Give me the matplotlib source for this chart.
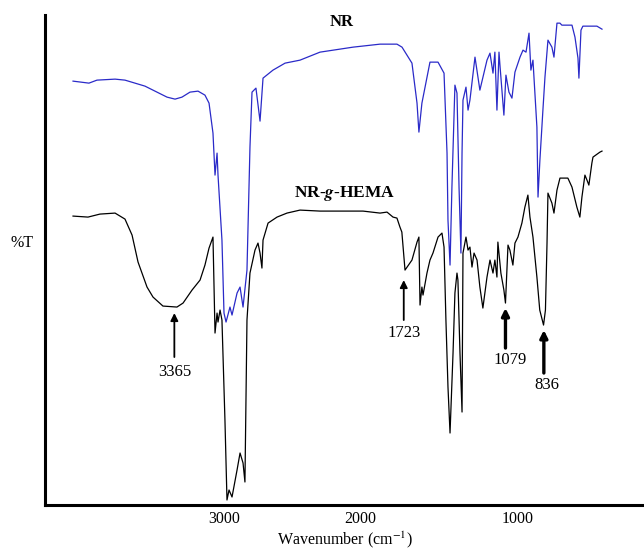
import numpy as np
import matplotlib
matplotlib.use("Agg")
import matplotlib.pyplot as plt

plt.rcParams['font.family'] = 'Liberation Serif'
plt.rcParams['mathtext.fontset'] = 'stix'

# NR spectrum (wavenumber, %T)
nr_wn = [4110, 3993, 3934, 3801, 3728, 3581, 3419, 3360, 3309, 3250, 3191, 3140,
         3110, 3081, 3066, 3051, 3044, 3015, 3000, 2985, 2956, 2941, 2904, 2882,
         2860, 2831, 2809, 2794, 2765, 2735, 2713, 2640, 2551, 2441, 2294, 2051,
         1873, 1766, 1734, 1671, 1639, 1627, 1608, 1557, 1506, 1468, 1449, 1443,
         1430, 1418, 1399, 1386, 1373, 1361, 1354, 1348, 1329, 1316, 1304, 1272,
         1241, 1196, 1177, 1158, 1146, 1133, 1120, 1114, 1089, 1076, 1057, 1038,
         1019, 987, 968, 949, 930, 918, 905, 880, 873, 861, 842, 829, 810, 785,
         772, 753, 734, 722, 658, 639, 620, 614, 601, 589, 500, 468]
nr_t = [84.8, 84.4, 85.0, 85.2, 85.0, 83.8, 81.6, 81.2, 81.6, 82.6, 82.8, 82.0,
        80.4, 74.4, 66.0, 70.4, 66.0, 53.0, 38.4, 36.6, 39.6, 38.0, 42.4, 43.6,
        39.6, 47.0, 71.6, 82.6, 83.4, 76.8, 85.4, 87.0, 88.4, 89.0, 90.6, 91.6,
        92.2, 92.2, 91.6, 88.4, 80.4, 74.6, 80.4, 88.6, 88.6, 86.4, 70.4, 57.0,
        48.0, 63.6, 84.0, 82.4, 63.6, 50.4, 70.4, 81.0, 83.6, 79.0, 81.0, 89.6,
        83.0, 89.0, 90.4, 86.4, 90.6, 79.0, 90.6, 88.0, 78.0, 86.0, 82.6, 81.4,
        86.6, 89.6, 91.0, 90.6, 94.4, 87.0, 89.0, 75.6, 61.6, 69.0, 79.0, 85.6,
        93.0, 91.6, 89.6, 96.4, 96.4, 96.0, 96.0, 93.6, 89.4, 85.4, 95.0, 95.8,
        95.8, 95.2]

# NR-g-HEMA spectrum (wavenumber, %T)
hema_wn = [4110, 4000, 3912, 3801, 3728, 3676, 3632, 3566, 3522, 3449, 3346, 3301,
           3235, 3176, 3140, 3110, 3081, 3066, 3051, 3044, 3029, 3015, 2993, 2978,
           2963, 2941, 2904, 2882, 2860, 2846, 2831, 2809, 2772, 2750, 2735, 2721,
           2713, 2676, 2610, 2537, 2441, 2294, 1981, 1873, 1829, 1791, 1766, 1747,
           1735, 1715, 1671, 1639, 1627, 1620, 1608, 1601, 1576, 1557, 1538, 1506,
           1481, 1468, 1456, 1443, 1430, 1411, 1399, 1386, 1380, 1367, 1354, 1348,
           1329, 1316, 1304, 1291, 1278, 1259, 1241, 1222, 1196, 1177, 1158, 1146,
           1133, 1127, 1108, 1089, 1079, 1063, 1051, 1032, 1019, 1000, 975, 956,
           937, 924, 905, 880, 862, 838, 826, 816, 810, 785, 772, 753, 734, 684,
           658, 627, 608, 595, 576, 563, 551, 532, 525, 481, 468]
hema_t = [57.8, 57.6, 58.2, 58.4, 57.2, 54.0, 48.6, 43.6, 41.6, 39.8, 39.6, 40.4,
          43.0, 45.0, 48.0, 51.4, 53.6, 34.4, 38.4, 36.6, 39.0, 37.0, 17.0, 1.0,
          3.0, 1.6, 7.0, 10.4, 8.4, 4.6, 37.0, 46.4, 51.0, 52.4, 50.4, 47.4,
          53.0, 56.4, 57.6, 58.4, 59.0, 58.8, 58.8, 58.4, 58.6, 57.6, 57.4, 55.6,
          54.6, 47.0, 49.0, 52.6, 53.6, 40.0, 43.6, 42.0, 46.4, 49.0, 50.4, 53.6,
          54.4, 51.6, 37.0, 23.6, 14.4, 30.4, 42.4, 46.4, 45.0, 30.4, 18.6, 50.4,
          53.6, 51.0, 51.6, 47.6, 50.4, 49.0, 43.6, 39.4, 45.6, 49.0, 46.4, 49.0,
          45.6, 52.6, 46.4, 43.0, 40.4, 52.0, 51.0, 48.0, 52.4, 53.6, 56.4, 59.6,
          62.0, 57.6, 53.6, 45.6, 39.0, 36.0, 39.0, 52.4, 62.4, 60.4, 58.4, 63.0,
          65.4, 65.4, 63.6, 59.6, 57.6, 61.6, 66.0, 65.0, 64.0, 68.4, 69.6, 70.6,
          70.8]

# labelled bands of NR-g-HEMA
peaks = [3365, 1723, 1079, 836]
xticks = [3000, 2000, 1000]


# region above 2000 cm-1 is drawn compressed
def forward(w):
    w = np.asarray(w, dtype=float)
    return np.where(w >= 2000, 2000 + (w - 2000) * 0.861, w)


def inverse(u):
    u = np.asarray(u, dtype=float)
    return np.where(u >= 2000, 2000 + (u - 2000) / 0.861, u)


fig = plt.figure(figsize=(6.44, 5.51), dpi=100)
ax = fig.add_axes([0.0699, 0.0835, 0.9301, 0.889])
ax.set_xscale('function', functions=(forward, inverse))

ax.plot(nr_wn, nr_t, color='#2a2ac8', lw=0.9)
ax.plot(hema_wn, hema_t, color='black', lw=0.9)

ax.set_xlim(4316, 202)
ax.set_ylim(0, 98)
ax.set_xticks(xticks)
ax.set_xticklabels([str(t) for t in xticks], fontsize=11.5)
ax.set_yticks([])
ax.tick_params(axis='x', length=0, pad=4)
for side in ['top', 'right']:
    ax.spines[side].set_visible(False)
for side in ['left', 'bottom']:
    ax.spines[side].set_linewidth(2.2)

ax.set_xlabel('Wavenumber (cm$^{-1}$)', fontsize=11.5, labelpad=2)
ax.set_ylabel('%T', fontsize=11.5, rotation=0, va='center', ha='center')
ax.yaxis.set_label_coords(-0.0384, 0.535)

ax.text(2132, 96.6, 'NR', fontsize=12, fontweight='bold', ha='center', va='center')
ax.text(2110, 62.4, r'NR-$\mathbfit{g}$-HEMA', fontsize=12.5, fontweight='bold',
        ha='center', va='center')

# arrows: (tip %T, tail %T, label %T, label x, arrow width)
arrow_specs = [(38.4, 29.6, 26.6, 3365, 1.3),
               (45.0, 37.0, 34.4, 1723, 1.3),
               (39.4, 31.4, 29.0, 1051, 2.4),
               (35.0, 26.4, 24.0, 816, 2.4)]
for wn, (tip, tail, lab_y, lab_x, lw) in zip(peaks, arrow_specs):
    ax.annotate('', xy=(wn, tip), xytext=(wn, tail),
                arrowprops=dict(arrowstyle='-|>', color='black', lw=lw,
                                mutation_scale=11, shrinkA=0, shrinkB=0))
    ax.text(lab_x, lab_y, str(wn), fontsize=12, ha='center', va='center')

fig.savefig('out.png', dpi=100)
